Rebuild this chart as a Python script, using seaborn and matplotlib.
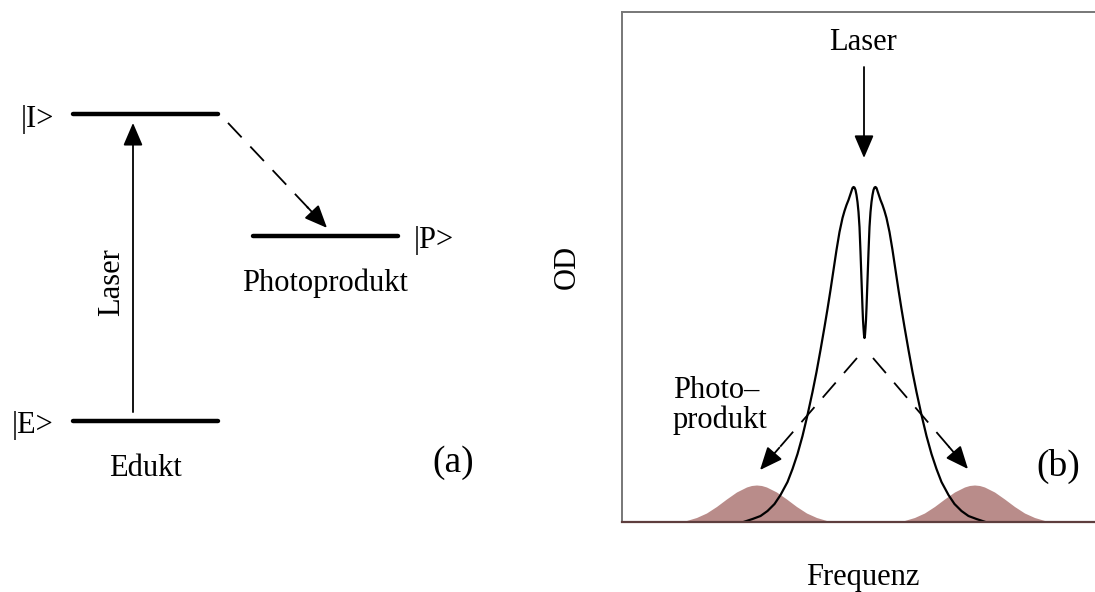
import matplotlib
matplotlib.use("Agg")
import matplotlib.pyplot as plt
import seaborn as sns
import pandas as pd

# ---------------- data ----------------
# Panel (a): energy levels (x span in diagram units, energy in relative units)
level_names = ["|E>", "|I>", "|P>"]
level_energy = [0.0, 1.0, 0.603]
level_x0 = [73, 73, 253]
level_x1 = [218, 218, 398]

# Panel (b): absorption spectrum with spectral hole (frequency offset, OD)
main_freq = [-12.1, -11.2, -10.4, -9.7, -9.0, -8.4, -7.7, -7.2, -6.7, -6.2, -5.7, -5.2,
             -4.8, -4.4, -4.0, -3.7, -3.4, -3.1, -2.8, -2.5, -2.2, -2.0, -1.8, -1.6,
             -1.4, -1.3, -1.2, -1.1, -1.0, -0.9, -0.8, -0.7, -0.6, -0.5, -0.4, -0.3,
             -0.2, -0.15, -0.1, -0.05, 0.0,
             0.05, 0.1, 0.15, 0.2, 0.3, 0.4, 0.5, 0.6, 0.7, 0.8, 0.9, 1.0,
             1.1, 1.2, 1.3, 1.4, 1.6, 1.8, 2.0, 2.2, 2.5, 2.8, 3.1, 3.4,
             3.7, 4.0, 4.4, 4.8, 5.2, 5.7, 6.2, 6.7, 7.2, 7.7, 8.4, 9.0,
             9.7, 10.4, 11.2, 12.1]
main_od = [0.00, 0.03, 0.06, 0.11, 0.18, 0.27, 0.40, 0.53, 0.68, 0.86, 1.07, 1.30,
           1.50, 1.72, 1.95, 2.13, 2.32, 2.52, 2.72, 2.90, 3.04, 3.11, 3.17, 3.22,
           3.28, 3.31, 3.34, 3.35, 3.345, 3.32, 3.27, 3.20, 3.10, 2.95, 2.70, 2.42,
           2.14, 2.02, 1.94, 1.87, 1.84,
           1.87, 1.94, 2.02, 2.14, 2.42, 2.70, 2.95, 3.10, 3.20, 3.27, 3.32, 3.345,
           3.35, 3.34, 3.31, 3.28, 3.22, 3.17, 3.11, 3.04, 2.90, 2.72, 2.52, 2.32,
           2.13, 1.95, 1.72, 1.50, 1.30, 1.07, 0.86, 0.68, 0.53, 0.40, 0.27, 0.18,
           0.11, 0.06, 0.03, 0.00]

# Photoproduct bands (shaded)
pp_left_freq = [-18.3, -17.8, -16.8, -15.8, -14.8, -13.8, -12.8, -11.8, -11.3, -10.8,
                -10.3, -9.8, -8.8, -7.8, -6.8, -5.8, -4.8, -3.8, -3.3]
pp_left_od = [0.000, 0.015, 0.045, 0.090, 0.155, 0.230, 0.300, 0.350, 0.365, 0.370,
              0.365, 0.350, 0.300, 0.230, 0.155, 0.090, 0.045, 0.015, 0.000]
pp_right_freq = [3.5, 4.0, 5.0, 6.0, 7.0, 8.0, 9.0, 10.0, 10.5, 11.0,
                 11.5, 12.0, 13.0, 14.0, 15.0, 16.0, 17.0, 18.0, 18.5]
pp_right_od = [0.000, 0.015, 0.045, 0.090, 0.155, 0.230, 0.300, 0.350, 0.365, 0.370,
               0.365, 0.350, 0.300, 0.230, 0.155, 0.090, 0.045, 0.015, 0.000]

# ---------------- style ----------------
sns.set_theme(style="white")
plt.rcParams["font.family"] = ["Liberation Serif", "DejaVu Serif"]
plt.rcParams["text.color"] = "black"
FS = 22
FS_TAG = 27
W, H = 1095, 592

fig = plt.figure(figsize=(W / 100, H / 100), dpi=100)
fig.patch.set_facecolor("white")


def fpos(x, y):
    return x / W, 1 - y / H


def arrow(ax, x0, y0, x1, y1, dashed=False, lw=1.3):
    head = "-|>,head_length=0.7,head_width=0.3"
    if dashed:
        fx = x1 - 0.14 * (x1 - x0)
        fy = y1 - 0.14 * (y1 - y0)
        ax.plot([x0, fx], [y0, fy], color="black", lw=lw, ls=(0, (11, 7)),
                dash_capstyle="butt")
        sx = x1 - 0.2 * (x1 - x0)
        sy = y1 - 0.2 * (y1 - y0)
        ax.annotate("", xy=(x1, y1), xytext=(sx, sy),
                    arrowprops=dict(arrowstyle=head, mutation_scale=20, lw=lw,
                                    color="black", shrinkA=0, shrinkB=0))
    else:
        ax.annotate("", xy=(x1, y1), xytext=(x0, y0),
                    arrowprops=dict(arrowstyle=head, mutation_scale=20, lw=lw,
                                    color="black", shrinkA=0, shrinkB=0))


# ---------------- panel (a) ----------------
ax_a = fig.add_axes([0, 0, 569.4 / W, 1])
ax_a.set_xlim(0, 569.4)
e_top = (421 - 0) / 307
e_bot = (421 - 592) / 307
ax_a.set_ylim(e_bot, e_top)
ax_a.axis("off")

for x0, x1, e in zip(level_x0, level_x1, level_energy):
    ax_a.plot([x0, x1], [e, e], color="black", lw=3.2, solid_capstyle="round")

# laser excitation arrow
arrow(ax_a, 133, level_energy[0] + 0.029, 133, level_energy[1] - 0.029)
# relaxation to photoproduct
arrow(ax_a, 228, level_energy[1] - 0.029, 327, level_energy[2] + 0.026, dashed=True)

fig.text(*fpos(37, 119), level_names[1], fontsize=FS, ha="center", va="center")
fig.text(*fpos(33, 425), level_names[0], fontsize=FS, ha="center", va="center")
fig.text(*fpos(434, 240), level_names[2], fontsize=FS, ha="center", va="center")
fig.text(*fpos(325, 283), "Photoprodukt", fontsize=FS, ha="center", va="center")
fig.text(*fpos(145, 468), "Edukt", fontsize=FS, ha="center", va="center")
fig.text(*fpos(453, 463), "(a)", fontsize=FS_TAG, ha="center", va="center")
fig.text(*fpos(112, 282), "Laser", fontsize=FS, ha="center", va="center", rotation=90)

# ---------------- panel (b) ----------------
ax_b = fig.add_axes([622 / W, 70 / H, (W - 622) / W, 510 / H])
ax_b.set_xlim(-24.25, 23.05)
ax_b.set_ylim(0, 5.10)

ax_b.fill_between(pp_left_freq, pp_left_od, 0, color="#b98c8a", lw=0)
ax_b.fill_between(pp_right_freq, pp_right_od, 0, color="#b98c8a", lw=0)

df = pd.DataFrame({"Frequenz": main_freq, "OD": main_od})
sns.lineplot(data=df, x="Frequenz", y="OD", ax=ax_b, color="black", lw=1.6,
             sort=False, estimator=None)

ax_b.set_xticks([])
ax_b.set_yticks([])
ax_b.set_xlabel("")
ax_b.set_ylabel("")
for side in ["left", "top"]:
    ax_b.spines[side].set_color("#777777")
    ax_b.spines[side].set_linewidth(1.4)
ax_b.spines["bottom"].set_color("#5e3e3e")
ax_b.spines["bottom"].set_linewidth(1.6)
ax_b.spines["right"].set_visible(False)

# laser arrow and photoproduct arrows
arrow(ax_b, -0.05, 4.55, -0.05, 3.64)
arrow(ax_b, -0.75, 1.64, -10.45, 0.52, dashed=True)
arrow(ax_b, 0.85, 1.64, 10.35, 0.53, dashed=True)

fig.text(*fpos(863, 42), "Laser", fontsize=FS, ha="center", va="center")
fig.text(*fpos(673, 398), "Photo\u2013", fontsize=FS, ha="left", va="baseline")
fig.text(*fpos(673, 428), "produkt", fontsize=FS, ha="left", va="baseline")
fig.text(*fpos(1058, 466), "(b)", fontsize=FS_TAG, ha="center", va="center")
fig.text(*fpos(863, 578), "Frequenz", fontsize=FS, ha="center", va="center")
fig.text(*fpos(567, 267), "OD", fontsize=FS, ha="center", va="center", rotation=90)

fig.savefig("out.png", dpi=100, facecolor="white")
